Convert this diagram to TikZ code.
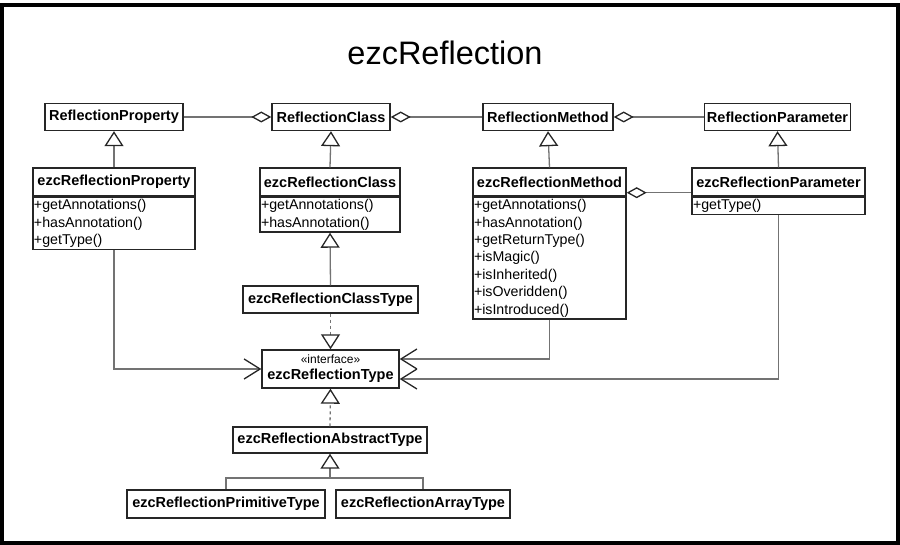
\documentclass[tikz,border=0pt]{standalone}
\usepackage{fontspec}
\setmainfont{Liberation Sans}
\usetikzlibrary{arrows.meta,positioning}

\begin{document}
\begin{tikzpicture}[x=1pt, y=-1pt, line width=1pt,
  cls/.style={draw=black!85, line width=1.4pt, fill=white, inner sep=2pt, minimum height=27pt, font=\bfseries\fontsize{14.5}{16}\selectfont},
  ops/.style={draw=black!85, line width=1.4pt, fill=white, anchor=north, inner xsep=1pt, inner ysep=2pt, align=left, font=\fontsize{14.2}{17.4}\selectfont},
  inherit/.style={draw=black!55, line width=1.3pt, -{Triangle[open, length=15pt, width=19pt, color=black!85]}},
  realize/.style={inherit, dashed},
  aggr/.style={draw=black!55, line width=1.3pt, {Diamond[open, length=20pt, width=11pt, color=black!85]}-},
  uses/.style={draw=black!55, line width=1.3pt, -{Straight Barb[length=16pt, width=20pt, color=black!85]}}]
	\useasboundingbox (0,0) rectangle (900,545);
	\draw[line width=4pt] (2,5) rectangle (898,543);
	\node[anchor=base, font=\fontsize{32.5}{34}\selectfont] (title) at (445,65) {ezcReflection};
	% abstract reflection classes
	\node[cls, minimum width=138pt] (rProp) at (114,117) {ReflectionProperty};
	\node[cls, minimum width=118pt] (rCls) at (331,117) {ReflectionClass};
	\node[cls, minimum width=130pt] (rMtd) at (548,117) {ReflectionMethod};
	\node[cls, minimum width=146pt] (rPrm) at (777.5,117) {ReflectionParameter};
	% ezc classes
	\node[cls, minimum width=162pt, minimum height=28pt] (ezProp) at (114,182) {ezcReflectionProperty};
	\node[ops, text width=160pt] (ezPropOps) at (ezProp.south) {+getAnnotations()\\+hasAnnotation()\\+getType()};
	\node[cls, minimum width=140pt, minimum height=28pt] (ezCls) at (330,182) {ezcReflectionClass};
	\node[ops, text width=138pt] (ezClsOps) at (ezCls.south) {+getAnnotations()\\+hasAnnotation()};
	\node[cls, minimum width=153pt, minimum height=28pt] (ezMtd) at (549.5,182) {ezcReflectionMethod};
	\node[ops, text width=151pt] (ezMtdOps) at (ezMtd.south) {+getAnnotations()\\+hasAnnotation()\\+getReturnType()\\+isMagic()\\+isInherited()\\+isOveridden()\\+isIntroduced()};
	\node[cls, minimum width=173pt, minimum height=28pt] (ezPrm) at (778.5,182) {ezcReflectionParameter};
	\node[ops, text width=171pt] (ezPrmOps) at (ezPrm.south) {+getType()};
	% types
	\node[cls, minimum width=175pt] (clsType) at (330.5,299.5) {ezcReflectionClassType};
	\node[cls, minimum width=137pt, minimum height=38pt, align=center, inner ysep=1pt] (refType) at (330.5,369) {{\mdseries\fontsize{12}{13}\selectfont «interface»}\\ezcReflectionType};
	\node[cls, minimum width=194pt, minimum height=26pt] (absType) at (330,440) {ezcReflectionAbstractType};
	\node[cls, minimum width=198pt, minimum height=28pt] (primType) at (226,504) {ezcReflectionPrimitiveType};
	\node[cls, minimum width=174pt, minimum height=28pt] (arrType) at (423,504) {ezcReflectionArrayType};
	\coordinate (join) at (330,478);
	% aggregations
	\draw[aggr] (rCls.west) -- (rProp.east);
	\draw[aggr] (rCls.east) -- (rMtd.west);
	\draw[aggr] (rMtd.east) -- (rPrm.west);
	\draw[aggr] ([yshift=4pt]ezMtd.south east) -- ([yshift=4pt]ezPrm.south west);
	% generalizations
	\draw[inherit] (ezProp.north) -- (rProp.south);
	\draw[inherit] (ezCls.north) -- (rCls.south);
	\draw[inherit] (ezMtd.north) -- (rMtd.south);
	\draw[inherit] (ezPrm.north) -- (rPrm.south);
	\draw[inherit] (clsType.north) -- (ezClsOps.south);
	\draw[realize] (clsType.south) -- (refType.north);
	\draw[realize] (absType.north) -- (refType.south);
	\draw[draw=black!55, line width=1.3pt] (primType.north) |- (join) -| (arrType.north);
	\draw[inherit] (join) -- (absType.south);
	% uses
	\draw[uses] (ezPropOps.south) |- (refType.west);
	\draw[uses] (ezMtdOps.south) |- ([yshift=10pt]refType.east);
	\draw[uses] (ezPrmOps.south) |- ([yshift=-10pt]refType.east);
\end{tikzpicture}
\end{document}
